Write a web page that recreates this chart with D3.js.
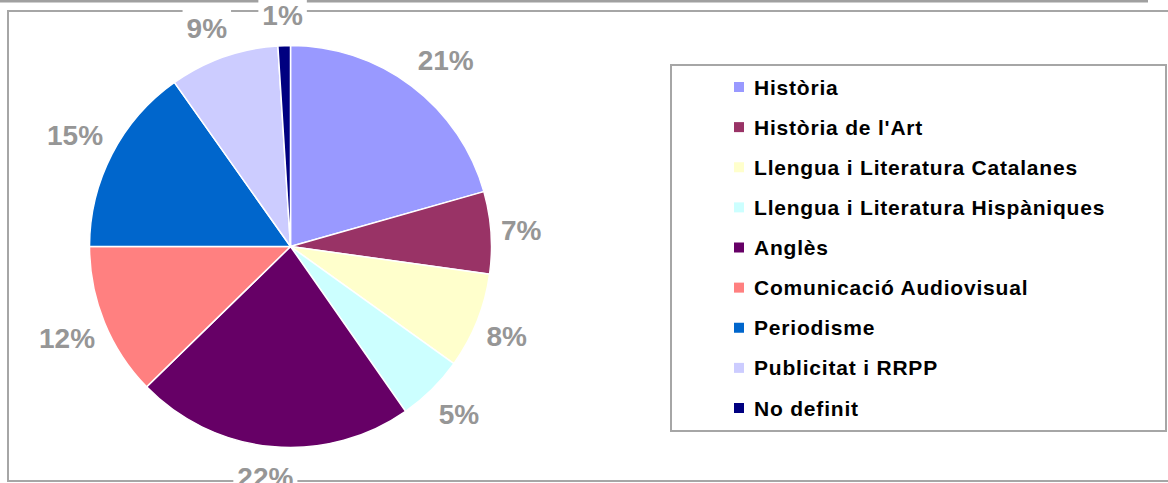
<!DOCTYPE html>
<html>
<head>
<meta charset="utf-8">
<script src="https://cdn.jsdelivr.net/npm/d3@7"></script>
<style>
  body { margin: 0; background: #fff; }
  text { font-family: Arial, "Liberation Sans", sans-serif; font-weight: bold; }
</style>
</head>
<body>
<script>
// share of students per degree (percent)
var categories = ["Història", "Història de l'Art", "Llengua i Literatura Catalanes",
  "Llengua i Literatura Hispàniques", "Anglès", "Comunicació Audiovisual",
  "Periodisme", "Publicitat i RRPP", "No definit"];
var values = [20.6, 6.6, 7.7, 5.4, 22.4, 12.3, 15.2, 8.8, 1.0];
var colors = ["#9999ff", "#993366", "#ffffcc", "#ccffff", "#660066",
  "#ff8080", "#0066cc", "#ccccff", "#000080"];

var W = 1168, H = 483;
var cx = 290.5, cy = 246.5, R = 201;

var svg = d3.select("body").append("svg")
    .attr("width", W)
    .attr("height", H);

// top page rule + chart frame
svg.append("rect").attr("x", 0).attr("y", 0).attr("width", 1148).attr("height", 2.5)
    .attr("fill", "#a0a0a0");
svg.append("rect").attr("x", 8).attr("y", 11).attr("width", 1200).attr("height", 470)
    .attr("fill", "none").attr("stroke", "#a6a6a6").attr("stroke-width", 2);

var pie = d3.pie().sort(null).value(d => d);
var arcs = pie(values);
var arc = d3.arc().innerRadius(0).outerRadius(R);

var fmt = d => Math.round(d) + "%";
var clamp = v => Math.max(-1, Math.min(1, v));

// labels: the corner of the box nearest the pie sits on the mid-angle ray
var labels = svg.append("g").attr("class", "labels");
var txt = labels.selectAll("text")
    .data(arcs)
    .enter()
    .append("text")
    .attr("text-anchor", "middle")
    .attr("dy", "0.36em")
    .attr("font-size", 28)
    .attr("fill", "#969696")
    .text(d => fmt(d.data));

var rx = 211, ry = 221, hh = 10.5;
txt.each(function(d) {
    var w = this.getComputedTextLength();
    var a = (d.startAngle + d.endAngle) / 2;
    var s = Math.sin(a), c = Math.cos(a);
    d.lx = cx + rx * s + (w / 2) * clamp(2 * s);
    d.ly = cy - ry * c - hh * clamp(2 * c);
    d.w = w;
});
txt.attr("x", d => d.lx).attr("y", d => d.ly);

// white boxes behind the labels (they break the frame line)
labels.selectAll("rect")
    .data(arcs)
    .enter()
    .insert("rect", "text")
    .attr("x", d => d.lx - d.w / 2 - 4)
    .attr("y", d => d.ly - 22)
    .attr("width", d => d.w + 8)
    .attr("height", 44)
    .attr("fill", "#fff");

svg.append("g")
    .attr("transform", `translate(${cx},${cy})`)
    .selectAll("path")
    .data(arcs)
    .enter()
    .append("path")
    .attr("d", arc)
    .attr("fill", (d, i) => colors[i])
    .attr("stroke", "#fff")
    .attr("stroke-width", 1.5);

labels.raise();

// legend
var legend = svg.append("g");
legend.append("rect")
    .attr("x", 671).attr("y", 65).attr("width", 495).attr("height", 366)
    .attr("fill", "#fff").attr("stroke", "#a6a6a6").attr("stroke-width", 2);

var ly = d3.scalePoint().domain(categories).range([87, 408]);

var item = legend.selectAll("g.item")
    .data(categories)
    .enter()
    .append("g")
    .attr("class", "item")
    .attr("transform", d => `translate(0,${ly(d)})`);

item.append("rect")
    .attr("x", 734).attr("y", -5).attr("width", 10).attr("height", 10)
    .attr("fill", (d, i) => colors[i]);

item.append("text")
    .attr("x", 754)
    .attr("dy", "0.36em")
    .attr("font-size", 21)
    .attr("letter-spacing", 0.8)
    .attr("fill", "#000")
    .text(d => d);
</script>
</body>
</html>
